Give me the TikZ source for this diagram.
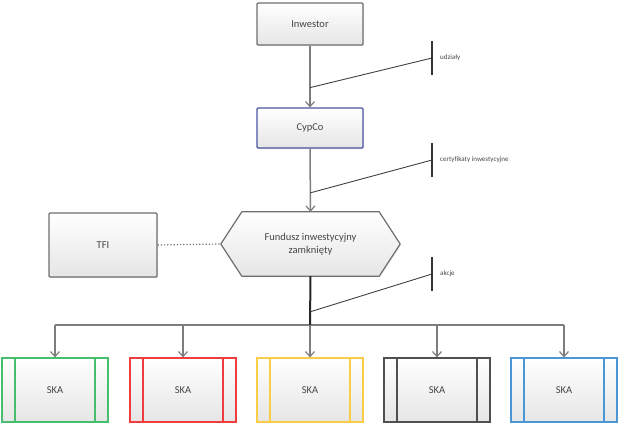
\documentclass[tikz,border=0pt]{standalone}
\usepackage{fontspec}
\setmainfont{Carlito}
\usetikzlibrary{arrows.meta,shadows,backgrounds,calc}
\definecolor{txt}{RGB}{70,70,70}
\definecolor{bord}{RGB}{110,110,110}
\definecolor{cypb}{RGB}{75,85,160}
\definecolor{conn}{RGB}{125,125,125}
\definecolor{skag}{RGB}{70,190,110}
\definecolor{skar}{RGB}{240,60,60}
\definecolor{skay}{RGB}{250,205,70}
\definecolor{skak}{RGB}{80,80,80}
\definecolor{skab}{RGB}{75,150,215}
\tikzset{
  x=1pt, y=-1pt,
  boxfill/.style={top color=white, bottom color=black!10, drop shadow={opacity=0.18, shadow xshift=1pt, shadow yshift=-1pt}},
  mainbox/.style={boxfill, draw=bord, line width=1.2pt, rounded corners=1pt, inner sep=0pt, text=txt, font=\fontsize{10.5}{12}\selectfont, align=center},
  skabox/.style={boxfill, draw=#1, line width=1.2pt, minimum width=106pt, minimum height=64pt, inner sep=0pt, text=txt, font=\fontsize{10.5}{12}\selectfont,
    path picture={
      \draw[draw=#1, line width=2.4pt]
        ([xshift=13pt]path picture bounding box.north west) -- ([xshift=13pt]path picture bounding box.south west)
        ([xshift=-13pt]path picture bounding box.north east) -- ([xshift=-13pt]path picture bounding box.south east);
    }},
  arr/.style={draw=conn, line width=1.5pt, -{Straight Barb[length=5pt,width=9pt,line width=1.2pt]}},
  annline/.style={draw=black!75, line width=0.9pt},
  annbar/.style={draw=black!80, line width=1.3pt},
  anntxt/.style={anchor=west, text=txt, font=\fontsize{7}{8}\selectfont, inner sep=0pt},
}
\begin{document}
\begin{tikzpicture}
\useasboundingbox (0,0) rectangle (624,429);
% main boxes
\node[mainbox, minimum width=106pt, minimum height=42pt] (inv) at (310,24) {Inwestor};
\node[mainbox, draw=cypb, minimum width=106pt, minimum height=40pt] (cyp) at (310,128) {CypCo};
\node[mainbox, minimum width=108pt, minimum height=64pt] (tfi) at (103,245) {TFI};
\node[inner sep=0pt, minimum width=179pt, minimum height=64pt, text=txt, font=\fontsize{10.5}{13}\selectfont, align=center] (fund) at (310.5,244) {Fundusz inwestycyjny\\zamknięty};
\begin{scope}[on background layer]
\path[boxfill, draw=bord, line width=1.2pt, line join=round]
  (fund.west) -- ([xshift=21pt]fund.north west) -- ([xshift=-21pt]fund.north east)
  -- (fund.east) -- ([xshift=-21pt]fund.south east) -- ([xshift=21pt]fund.south west) -- cycle;
\end{scope}
% SKA boxes
\node[skabox=skag] (ska1) at (55,390) {SKA};
\node[skabox=skar] (ska2) at (183,390) {SKA};
\node[skabox=skay] (ska3) at (310,390) {SKA};
\node[skabox=skak] (ska4) at (437,390) {SKA};
\node[skabox=skab] (ska5) at (564,390) {SKA};
% connectors
\draw[arr] (inv.south) -- (cyp.north);
\draw[arr] (cyp.south) -- (fund.north);
\draw[draw=bord, line width=1.2pt, dotted] (tfi.east) -- (fund.west);
\coordinate (bus) at (310,325);
\draw[conn, line width=1.5pt] (ska1.north |- bus) -- (ska5.north |- bus);
\draw[black!85, line width=2pt] (fund.south) -- (bus);
\foreach \i in {1,...,5}{
  \draw[arr] (ska\i.north |- bus) -- (ska\i.north);
}
% annotations
\coordinate (u1) at ($(inv.south)!0.68!(cyp.north)$);
\coordinate (t1) at (432,58);
\draw[annline] (u1) -- (t1);
\draw[annbar] ([yshift=17pt]t1) -- ([yshift=-17pt]t1);
\node[anntxt] (l1) at ([xshift=8pt]t1) {udziały};
\coordinate (u2) at ($(cyp.south)!0.70!(fund.north)$);
\coordinate (t2) at (432,160);
\draw[annline] (u2) -- (t2);
\draw[annbar] ([yshift=17pt]t2) -- ([yshift=-17pt]t2);
\node[anntxt] (l2) at ([xshift=8pt]t2) {certyfikaty inwestycyjne};
\coordinate (u3) at ($(fund.south)!0.73!(bus)$);
\coordinate (t3) at (432,274);
\draw[annline] (u3) -- (t3);
\draw[annbar] ([yshift=17pt]t3) -- ([yshift=-17pt]t3);
\node[anntxt] (l3) at ([xshift=8pt]t3) {akcje};
\end{tikzpicture}
\end{document}
